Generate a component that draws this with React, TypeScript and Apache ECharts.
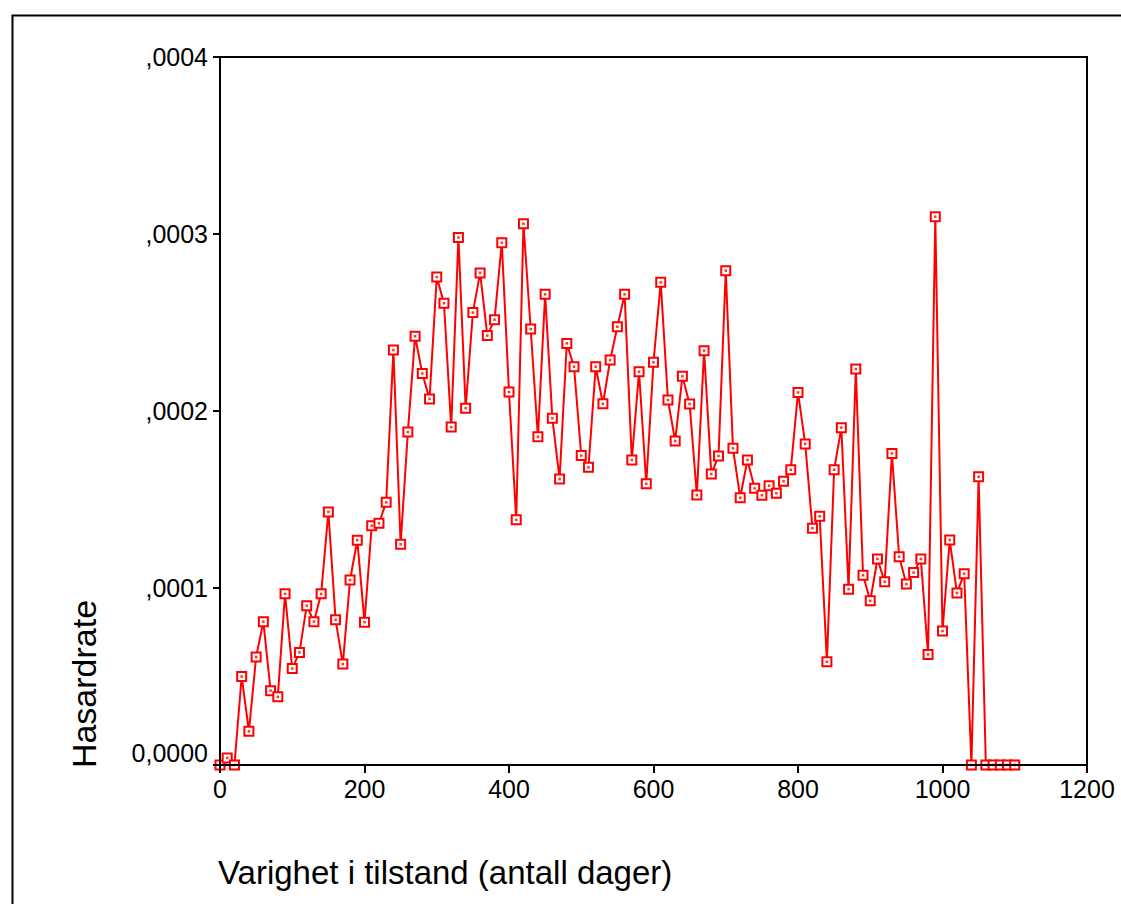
import React, { useEffect, useRef } from "react";
import * as echarts from "echarts";

const days = [
  0, 10, 20, 30, 40, 50, 60, 70, 80, 90,
  100, 110, 120, 130, 140, 150, 160, 170, 180, 190,
  200, 210, 220, 230, 240, 250, 260, 270, 280, 290,
  300, 310, 320, 330, 340, 350, 360, 370, 380, 390,
  400, 410, 420, 430, 440, 450, 460, 470, 480, 490,
  500, 510, 520, 530, 540, 550, 560, 570, 580, 590,
  600, 610, 620, 630, 640, 650, 660, 670, 680, 690,
  700, 710, 720, 730, 740, 750, 760, 770, 780, 790,
  800, 810, 820, 830, 840, 850, 860, 870, 880, 890,
  900, 910, 920, 930, 940, 950, 960, 970, 980, 990,
  1000, 1010, 1020, 1030, 1040, 1050, 1060, 1070, 1080, 1090,
  1100,
];

const hazardRate = [
  0, 0.04e-4, 0, 0.50e-4, 0.19e-4, 0.61e-4, 0.81e-4, 0.42e-4, 0.385e-4, 0.967e-4,
  0.545e-4, 0.636e-4, 0.90e-4, 0.81e-4, 0.967e-4, 1.43e-4, 0.82e-4, 0.57e-4, 1.045e-4, 1.27e-4,
  0.807e-4, 1.352e-4, 1.366e-4, 1.484e-4, 2.344e-4, 1.247e-4, 1.881e-4, 2.422e-4, 2.212e-4, 2.068e-4,
  2.757e-4, 2.609e-4, 1.909e-4, 2.98e-4, 2.016e-4, 2.556e-4, 2.78e-4, 2.426e-4, 2.516e-4, 2.951e-4,
  2.107e-4, 1.385e-4, 3.058e-4, 2.463e-4, 1.855e-4, 2.659e-4, 1.959e-4, 1.616e-4, 2.382e-4, 2.25e-4,
  1.748e-4, 1.682e-4, 2.25e-4, 2.041e-4, 2.288e-4, 2.476e-4, 2.659e-4, 1.723e-4, 2.222e-4, 1.589e-4,
  2.275e-4, 2.727e-4, 2.062e-4, 1.831e-4, 2.196e-4, 2.04e-4, 1.525e-4, 2.341e-4, 1.644e-4, 1.746e-4,
  2.793e-4, 1.789e-4, 1.51e-4, 1.723e-4, 1.563e-4, 1.524e-4, 1.578e-4, 1.535e-4, 1.603e-4, 1.668e-4,
  2.105e-4, 1.814e-4, 1.338e-4, 1.405e-4, 0.583e-4, 1.668e-4, 1.906e-4, 0.993e-4, 2.237e-4, 1.072e-4,
  0.928e-4, 1.164e-4, 1.035e-4, 1.76e-4, 1.177e-4, 1.022e-4, 1.087e-4, 1.164e-4, 0.625e-4, 3.098e-4,
  0.757e-4, 1.271e-4, 0.972e-4, 1.081e-4, 0, 1.628e-4, 0, 0, 0, 0,
  0,
];

const yTickLabels: Record<string, string> = {
  "0": "0,0000",
  "0.0001": ",0001",
  "0.0002": ",0002",
  "0.0003": ",0003",
  "0.0004": ",0004",
};

const xTitle = "Varighet i tilstand (antall dager)";
const yTitle = "Hasardrate";

const FONT = "'Liberation Sans', Arial, Helvetica, sans-serif";

export default function App() {
  const ref = useRef<HTMLDivElement>(null);
  useEffect(() => {
    if (!ref.current) return;
    const chart = echarts.init(ref.current, null, { renderer: "svg" });
    const pts = days.map((d, i) => [d, hazardRate[i]]);
    chart.setOption({
      animation: false,
      backgroundColor: "#fff",
      grid: {
        left: 220,
        right: 34,
        top: 57,
        bottom: 139,
        show: true,
        borderColor: "#000",
        borderWidth: 2,
        backgroundColor: "transparent",
      },
      xAxis: {
        type: "value",
        min: 0,
        max: 1200,
        interval: 200,
        z: 5,
        axisLine: { show: true, onZero: false, lineStyle: { color: "#000", width: 2 } },
        axisTick: { show: true, length: 8, lineStyle: { color: "#000", width: 2 } },
        axisLabel: {
          color: "#000",
          fontSize: 25,
          fontFamily: FONT,
          margin: 11,
          formatter: (v: number) => String(v),
        },
        splitLine: { show: false },
      },
      yAxis: {
        type: "value",
        min: 0,
        max: 0.0004,
        interval: 0.0001,
        z: 5,
        axisLine: { show: true, onZero: false, lineStyle: { color: "#000", width: 2 } },
        axisTick: { show: true, length: 7, lineStyle: { color: "#000", width: 2 } },
        axisLabel: {
          color: "#000",
          fontSize: 25,
          fontFamily: FONT,
          margin: 12,
          formatter: (v: number) => {
            const key = String(Math.round(v * 1e4) / 1e4);
            const s = yTickLabels[key] ?? String(v);
            return v === 0 ? "{z|" + s + "}" : s;
          },
          rich: {
            z: { color: "#000", fontSize: 25, fontFamily: FONT, padding: [0, 0, 24, 0] },
          },
        },
        splitLine: { show: false },
      },
      graphic: [
        {
          type: "rect",
          left: 10,
          top: 13,
          shape: { x: 0, y: 0, width: 1300, height: 1100 },
          style: { fill: "none", stroke: "#000", lineWidth: 2 },
          silent: true,
          z: -1,
        },
        {
          type: "text",
          x: 218,
          y: 872,
          style: {
            text: xTitle,
            fill: "#000",
            font: "33px " + FONT,
            textAlign: "left",
            textVerticalAlign: "middle",
          },
        },
        {
          type: "text",
          x: 84,
          y: 684,
          rotation: Math.PI / 2,
          style: {
            text: yTitle,
            fill: "#000",
            font: "34px " + FONT,
            textAlign: "center",
            textVerticalAlign: "middle",
          },
        },
      ],
      series: [
        {
          type: "line",
          data: pts,
          symbol: "rect",
          symbolSize: 9,
          showAllSymbol: true,
          lineStyle: { color: "#ff0000", width: 2 },
          itemStyle: { color: "#fff", borderColor: "#ff0000", borderWidth: 2 },
          z: 2,
        },
        {
          type: "scatter",
          data: pts,
          symbol: "rect",
          symbolSize: 2.5,
          itemStyle: { color: "#ff0000" },
          z: 3,
        },
      ],
    });
    return () => chart.dispose();
  }, []);
  return (
    <div style={{ position: "absolute", left: 0, top: 0 }}>
      <div ref={ref} style={{ width: 1121, height: 904 }} />
    </div>
  );
}
